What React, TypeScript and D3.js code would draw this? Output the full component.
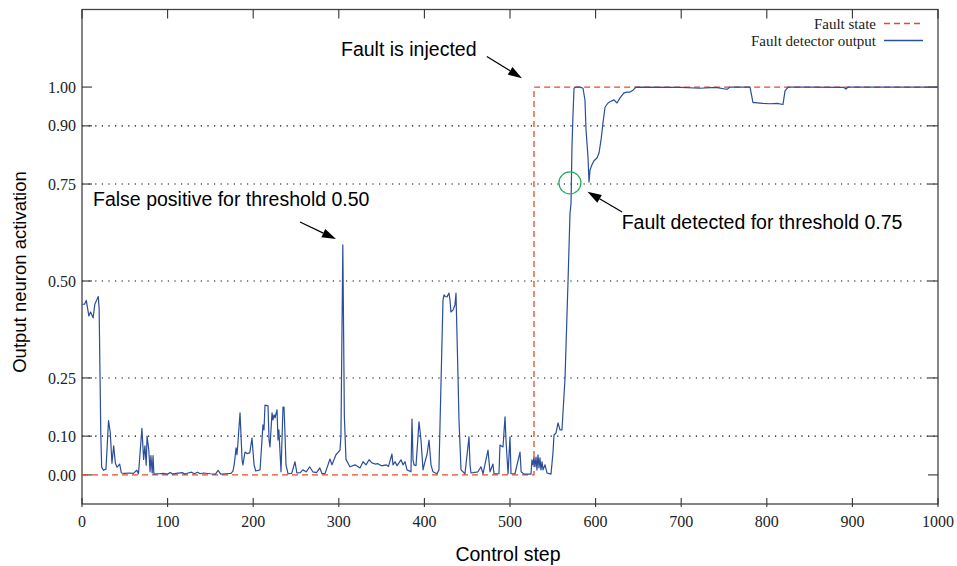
import React from "react";
import * as d3 from "d3";

const detectorSteps = [
  0, 3, 5, 8, 10, 13, 15, 17, 19, 20, 22, 23, 25, 28, 31, 33, 35, 37, 39, 41, 44, 46, 50, 55, 60, 64, 66,
  70, 72, 73.5, 75, 76, 78, 79.5, 80.5, 82, 83, 84, 90, 95, 100, 103, 106, 110, 117, 120, 124, 128, 131,
  135, 138, 142, 150, 156, 159, 162, 168, 174, 176.4, 178, 180, 181, 182, 184.6, 187, 188, 190.4, 192.8,
  196, 198.6, 201, 203, 208, 211.4, 212.6, 213.8, 217.3, 218.5, 219.6, 222, 223.1, 224.3, 225.5, 227.8,
  229, 230, 232.5, 234.8, 236, 237, 238.3, 240.7, 245, 248.8, 251, 255, 258, 262, 266, 269.6, 274, 277.8,
  280.4, 284, 289.7, 292, 296.7, 301.4, 302.5, 304.7, 306.5, 308.4, 313, 319, 324.8, 328.3, 331.8, 335.3,
  338.8, 342.3, 345.8, 349.3, 351.6, 355.1, 358, 362.1, 363.3, 365.7, 368, 372.7, 375, 377.3, 379.7, 384.3,
  385.5, 386.7, 387.9, 390.2, 393.7, 396, 398.4, 400.7, 403, 405.4, 407.7, 410, 414.7, 417, 419, 421.7,
  422.9, 424.5, 426.4, 428.7, 429.9, 431, 433.4, 435.7, 436.9, 439.3, 440.4, 442.8, 447.4, 452.1, 453.3,
  454.4, 462.6, 466.1, 468.5, 474.3, 476.6, 480.1, 481.3, 487.1, 488.3, 491.8, 494.2, 495.3, 497.7, 500,
  501.2, 505.8, 511.7, 513, 516.4, 524.5, 525.7, 526.9, 528, 529.2, 530.4, 531.5, 532.7, 533.9, 535, 536.2,
  537.4, 538.6, 540.9, 543.2, 547.9, 550.2, 551.4, 553.7, 556.1, 558.4, 560.7, 564.3, 567.8, 570.1, 571.3,
  572.4, 573.6, 574.8, 577.1, 581.8, 585.3, 587.6, 588.8, 591.1, 592.3, 593.5, 595.8, 598.1, 601.6, 604,
  606.3, 608.6, 611, 614.5, 616.8, 621.5, 625, 628.5, 633.2, 636.7, 640.2, 643.7, 647.2, 700, 721.9, 740,
  751.2, 753.5, 757, 780.4, 783.9, 786.2, 795, 803.7, 812, 818.9, 821.3, 824.8, 850, 890, 892.5, 895, 1000,
];

const detectorValues = [
  0.44, 0.44, 0.45, 0.41, 0.42, 0.405, 0.44, 0.45, 0.46, 0.43, 0.1, 0.02, 0.012, 0.015, 0.14, 0.11, 0.03,
  0.075, 0.03, 0.02, 0.028, 0.005, 0.004, 0.005, 0.004, 0.012, 0.003, 0.12, 0.04, 0.075, 0.025, 0.1, 0.065,
  0.008, 0.05, 0.005, 0.05, 0.002, 0.003, 0.004, 0.002, 0.006, 0.002, 0.004, 0.006, 0.002, 0.005, 0.007,
  0.003, 0.007, 0.003, 0.005, 0.003, 0.002, 0.012, 0.002, 0.003, 0.004, 0.01, 0.03, 0.07, 0.052, 0.077,
  0.16, 0.039, 0.026, 0.059, 0.055, 0.057, 0.095, 0.026, 0.01, 0.013, 0.129, 0.116, 0.18, 0.178, 0.09,
  0.072, 0.16, 0.142, 0.155, 0.147, 0.168, 0.09, 0.116, 0.008, 0.175, 0.175, 0.116, 0.026, 0.003, 0.004,
  0.034, 0.005, 0.006, 0.013, 0.008, 0.021, 0.008, 0.006, 0.018, 0.003, 0.004, 0.041, 0.026, 0.052, 0.064,
  0.1, 0.593, 0.15, 0.04, 0.021, 0.026, 0.018, 0.034, 0.026, 0.039, 0.031, 0.028, 0.029, 0.024, 0.024,
  0.026, 0.022, 0.054, 0.026, 0.034, 0.024, 0.039, 0.026, 0.034, 0.013, 0.008, 0.144, 0.039, 0.026, 0.024,
  0.137, 0.09, 0.013, 0.034, 0.052, 0.09, 0.026, 0.008, 0.003, 0.013, 0.2, 0.45, 0.464, 0.46, 0.459, 0.469,
  0.451, 0.42, 0.425, 0.438, 0.469, 0.25, 0.142, 0.013, 0.003, 0.098, 0.026, 0.005, 0.008, 0.021, 0.003,
  0.064, 0.008, 0.028, 0.003, 0.003, 0.077, 0.072, 0.15, 0.09, 0.003, 0.098, 0.003, 0.003, 0.059, 0.008,
  0.002, 0.002, 0.039, 0.026, 0.046, 0.021, 0.046, 0.013, 0.052, 0.018, 0.044, 0.013, 0.034, 0.013, 0.026,
  0.005, 0.002, 0.057, 0.103, 0.108, 0.134, 0.116, 0.116, 0.25, 0.5, 0.675, 0.7, 0.845, 0.93, 0.997, 1.0,
  1.0, 0.997, 0.966, 0.89, 0.82, 0.755, 0.786, 0.8, 0.81, 0.817, 0.83, 0.863, 0.907, 0.948, 0.959, 0.962,
  0.967, 0.959, 0.972, 0.985, 0.987, 0.987, 0.992, 1.0, 0.999, 0.997, 0.999, 0.995, 0.994, 1.0, 1.0, 0.96,
  0.96, 0.958, 0.957, 0.958, 0.955, 0.99, 1.0, 1.0, 0.999, 0.995, 1.0, 1.0,
];

const faultSteps = [0, 528, 528, 1000];
const faultValues = [0, 0, 1, 1];

const xTicks = [0, 100, 200, 300, 400, 500, 600, 700, 800, 900, 1000];
const yTicks = [0, 0.1, 0.25, 0.5, 0.75, 0.9, 1.0];
const gridTicks = [0.1, 0.25, 0.5, 0.75, 0.9];
const seriesNames = ["Fault state", "Fault detector output"];

// annotation anchors in data units: [tailStep, tailValue, tipStep, tipValue]
const annotationTexts = [
  "Fault is injected",
  "False positive for threshold 0.50",
  "Fault detected for threshold 0.75",
];
const annotationTextPos = [
  [302.6, 1.081],
  [12.9, 0.694],
  [630.5, 0.633],
];
const annotationArrows = [
  [473, 1.079, 514, 1.023],
  [254.7, 0.652, 296.7, 0.608],
  [631, 0.678, 590.5, 0.73],
];
const detectionCircle = [570, 0.753];

const W = 957;
const H = 566;
const M = { left: 82, right: 938, top: 9.5, bottom: 504 };

const SERIF = "'Liberation Serif', 'DejaVu Serif', serif";
const SANS = "'Liberation Sans', Arial, sans-serif";
const BLUE = "#2a4d9c";
const RED = "#e8492b";

function Arrow({ x1, y1, x2, y2 }: { x1: number; y1: number; x2: number; y2: number }) {
  const dx = x2 - x1;
  const dy = y2 - y1;
  const len = Math.sqrt(dx * dx + dy * dy);
  const ux = dx / len;
  const uy = dy / len;
  const hl = 14;
  const hw = 4.5;
  const bx = x2 - ux * hl;
  const by = y2 - uy * hl;
  const p1 = [bx - uy * hw, by + ux * hw];
  const p2 = [bx + uy * hw, by - ux * hw];
  return (
    <g>
      <line x1={x1} y1={y1} x2={bx} y2={by} stroke="#000" strokeWidth={1.2} />
      <polygon points={`${x2},${y2} ${p1[0]},${p1[1]} ${p2[0]},${p2[1]}`} fill="#000" />
    </g>
  );
}

export default function App() {
  const x = d3.scaleLinear().domain([0, 1000]).range([M.left, M.right]);
  const y = d3.scaleLinear().domain([-0.075, 1.2]).range([M.bottom, M.top]);

  const line = d3
    .line<number>()
    .x((_, i) => x(detectorSteps[i]))
    .y((d) => y(d));
  const faultLine = d3
    .line<number>()
    .x((_, i) => x(faultSteps[i]))
    .y((d) => y(d));

  return (
    <svg width={W} height={H} style={{ position: "absolute", left: 0, top: 0, background: "#fff" }}>
      <rect x={0} y={0} width={W} height={H} fill="#fff" />
      {/* grid */}
      {gridTicks.map((t) => (
        <line
          key={"g" + t}
          x1={M.left}
          x2={M.right}
          y1={y(t)}
          y2={y(t)}
          stroke="#000"
          strokeWidth={1.1}
          strokeDasharray="1.2,5.4"
        />
      ))}
      {/* frame */}
      <rect
        x={M.left}
        y={M.top}
        width={M.right - M.left}
        height={M.bottom - M.top}
        fill="none"
        stroke="#444"
        strokeWidth={1.3}
      />
      {/* y ticks */}
      {yTicks.map((t) => (
        <g key={"y" + t}>
          <line x1={M.left} x2={M.left + 10} y1={y(t)} y2={y(t)} stroke="#333" strokeWidth={1.1} />
          <line x1={M.right - 10} x2={M.right} y1={y(t)} y2={y(t)} stroke="#333" strokeWidth={1.1} />
          <text
            x={M.left - 6}
            y={y(t)}
            dy="0.35em"
            textAnchor="end"
            fontFamily={SERIF}
            fontSize={16}
            fill="#222"
          >
            {t.toFixed(2)}
          </text>
        </g>
      ))}
      {/* x ticks */}
      {xTicks.map((t) => (
        <g key={"x" + t}>
          <line x1={x(t)} x2={x(t)} y1={M.bottom + 3} y2={M.bottom - 6} stroke="#333" strokeWidth={1.1} />
          <line x1={x(t)} x2={x(t)} y1={M.top} y2={M.top + 9} stroke="#333" strokeWidth={1.1} />
          <text
            x={x(t)}
            y={M.bottom + 23}
            textAnchor="middle"
            fontFamily={SERIF}
            fontSize={16}
            fill="#222"
          >
            {t}
          </text>
        </g>
      ))}
      {/* series */}
      <path
        d={faultLine(faultValues) || ""}
        fill="none"
        stroke={RED}
        strokeWidth={1.3}
        strokeDasharray="6,4"
      />
      <path d={line(detectorValues) || ""} fill="none" stroke={BLUE} strokeWidth={1.2} strokeLinejoin="round" />
      {/* circle */}
      <circle
        cx={x(detectionCircle[0])}
        cy={y(detectionCircle[1])}
        r={11}
        fill="none"
        stroke="#22b060"
        strokeWidth={1.3}
      />
      {/* annotations */}
      {annotationTexts.map((txt, i) => (
        <g key={"a" + i}>
          <text
            x={x(annotationTextPos[i][0])}
            y={y(annotationTextPos[i][1])}
            fontFamily={SANS}
            fontSize={19.5}
            fill="#000"
          >
            {txt}
          </text>
          <Arrow
            x1={x(annotationArrows[i][0])}
            y1={y(annotationArrows[i][1])}
            x2={x(annotationArrows[i][2])}
            y2={y(annotationArrows[i][3])}
          />
        </g>
      ))}
      {/* legend */}
      <text x={876} y={28.5} textAnchor="end" fontFamily={SERIF} fontSize={15} fill="#222">
        {seriesNames[0]}
      </text>
      <line x1={884} x2={923} y1={23.5} y2={23.5} stroke={RED} strokeWidth={1.3} strokeDasharray="6,4" />
      <text x={876} y={46} textAnchor="end" fontFamily={SERIF} fontSize={15} fill="#222">
        {seriesNames[1]}
      </text>
      <line x1={884} x2={923} y1={40.5} y2={40.5} stroke={BLUE} strokeWidth={1.3} />
      {/* axis titles */}
      <text
        transform={`translate(20, 272) rotate(-90)`}
        textAnchor="middle"
        dy="0.35em"
        fontFamily={SANS}
        fontSize={18.5}
        fill="#000"
      >
        Output neuron activation
      </text>
      <text x={508} y={561} textAnchor="middle" fontFamily={SANS} fontSize={19.5} fill="#000">
        Control step
      </text>
    </svg>
  );
}
